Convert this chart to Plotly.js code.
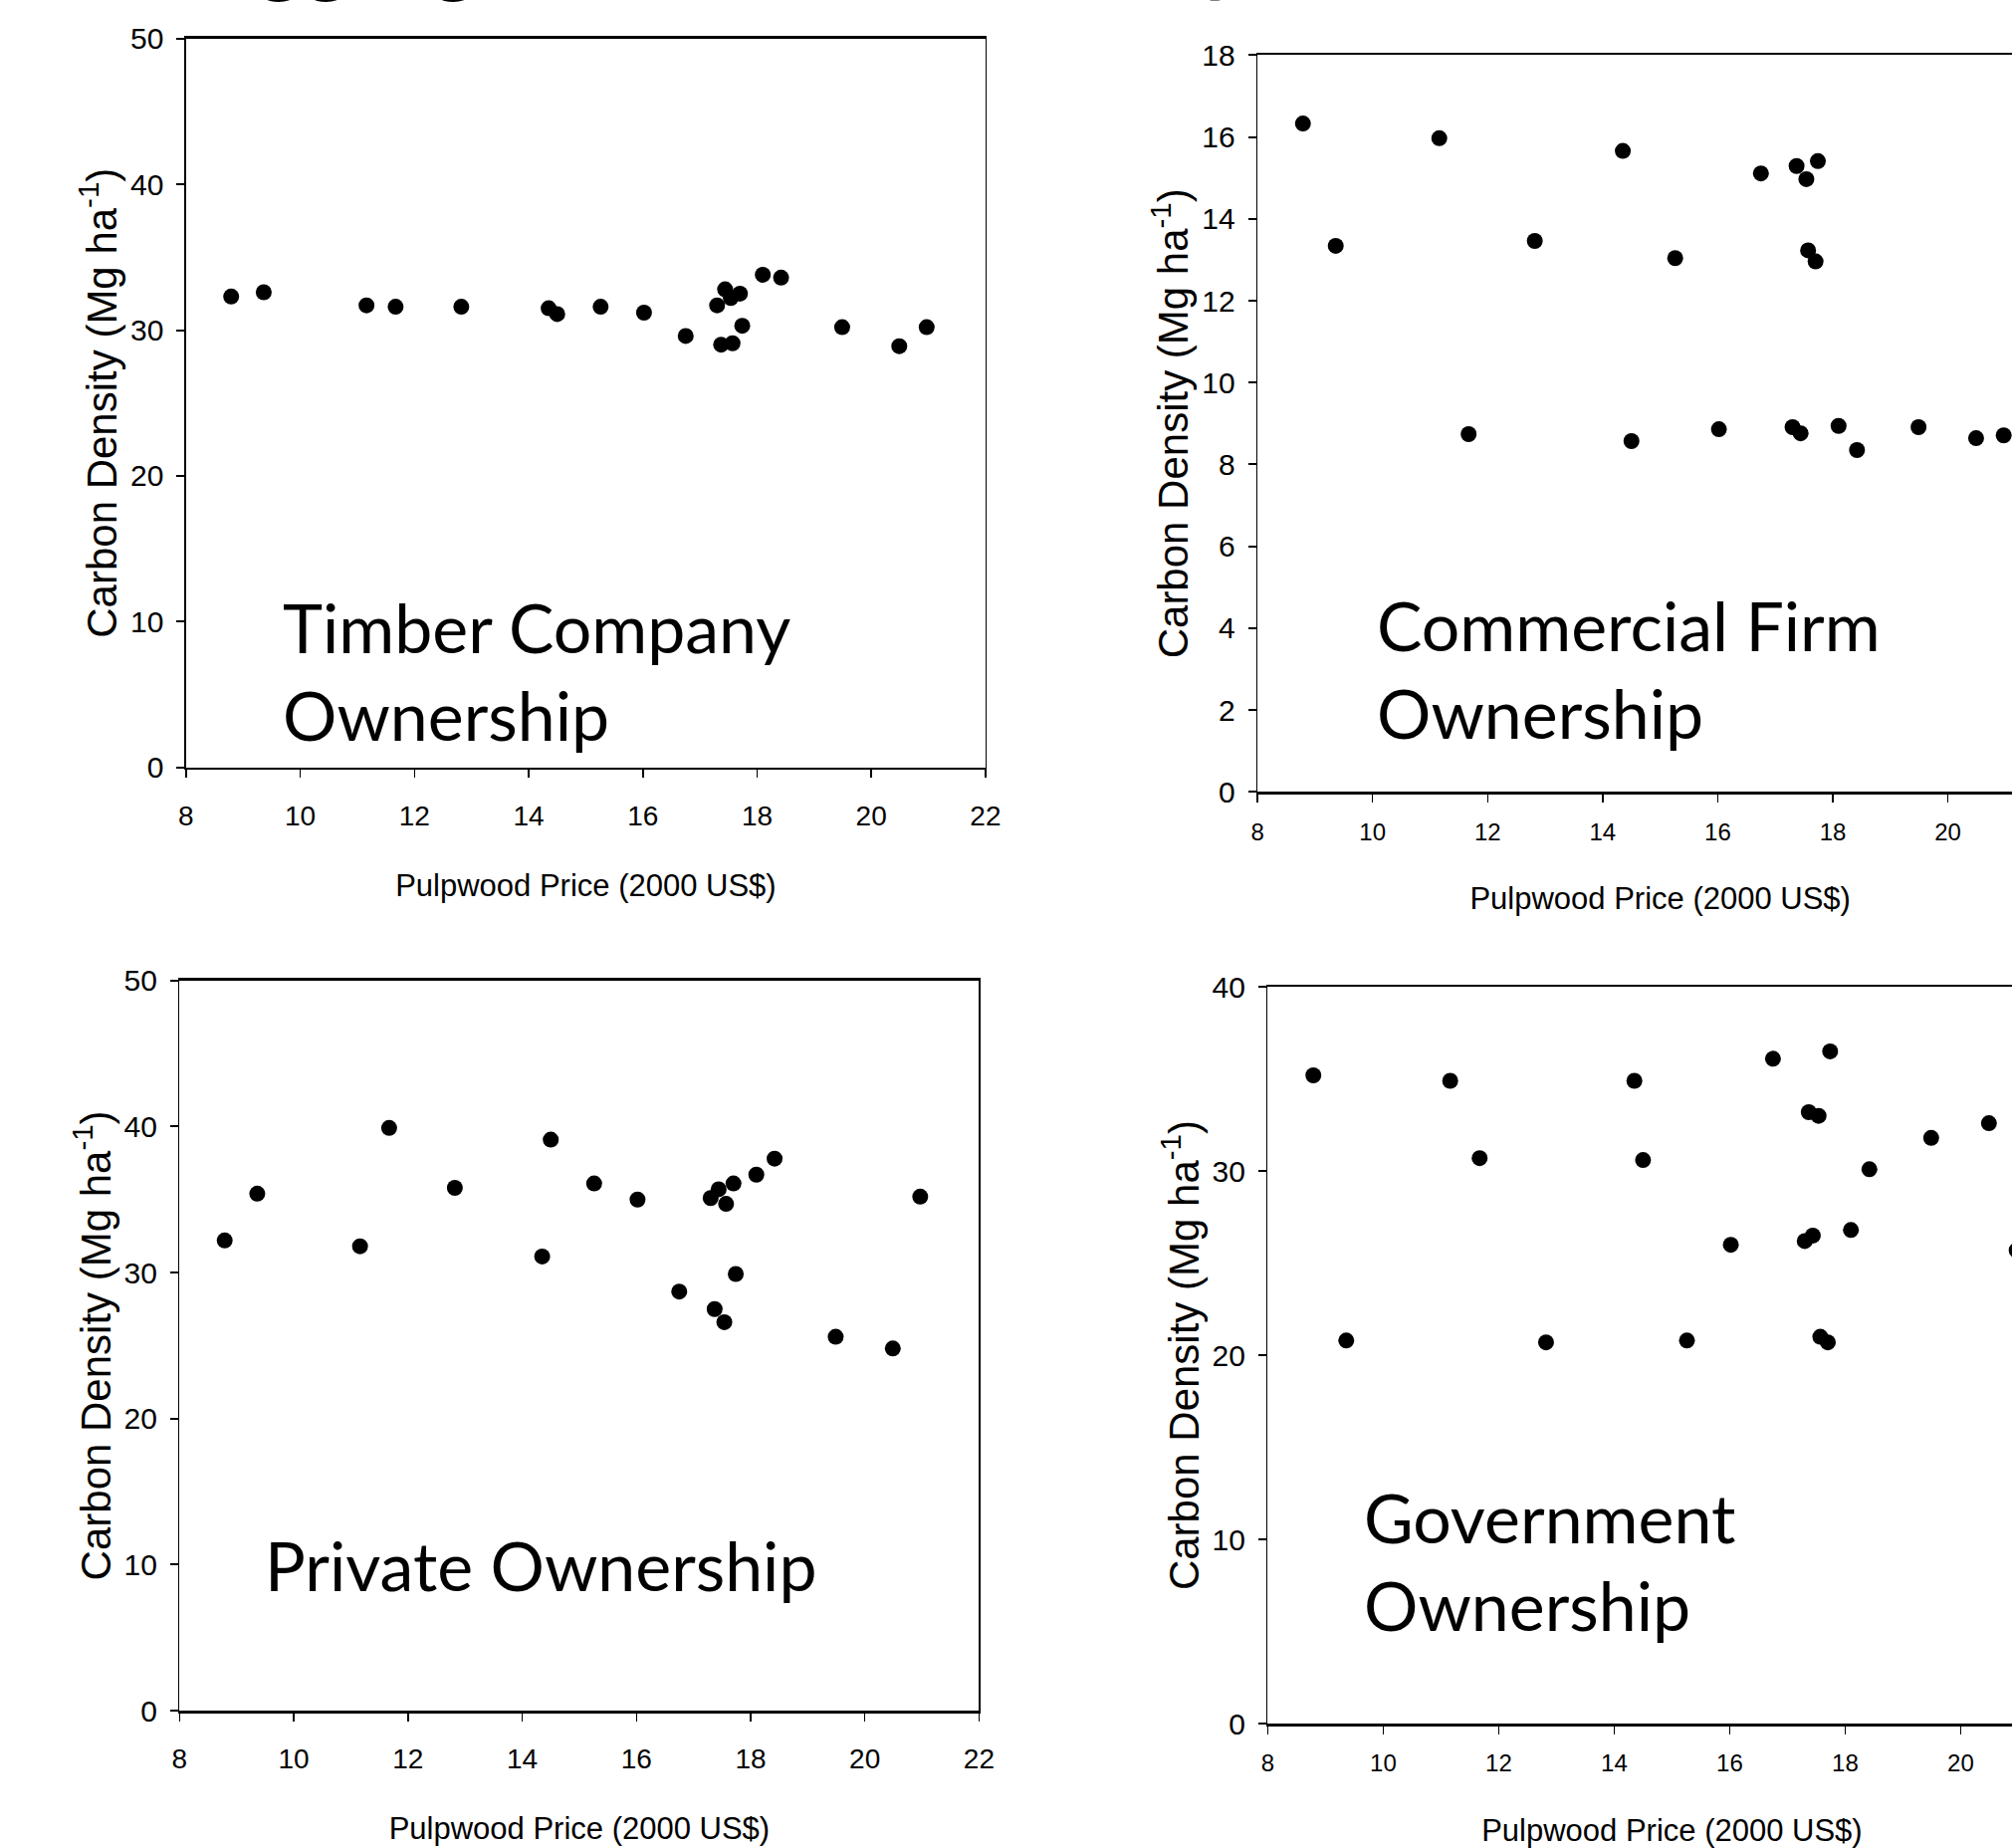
<!DOCTYPE html>
<html>
<head>
<meta charset="utf-8">
<script src="https://cdn.plot.ly/plotly-3.0.1.min.js"></script>
<style>
  html, body { margin: 0; padding: 0; background: #ffffff; overflow: hidden; }
  #chart { width: 2100px; height: 1856px; }
</style>
</head>
<body>
<div id="chart"></div>
<script>
// Pulpwood price (2000 US$) – shared x values of the four panels
const price = [8.79, 9.36, 11.16, 11.67, 12.82, 14.35, 14.50, 15.26, 16.02, 16.75, 17.30,
               17.37, 17.44, 17.54, 17.57, 17.70, 17.74, 18.10, 18.42, 19.49, 20.49, 20.97];

// Carbon density (Mg ha-1) by ownership
const timberCompany = [32.3, 32.6, 31.7, 31.6, 31.6, 31.5, 31.1, 31.6, 31.2, 29.6, 31.7,
                       29.0, 32.8, 32.2, 29.1, 32.5, 30.3, 33.8, 33.6, 30.2, 28.9, 30.2];
const commercialFirm = [16.33, 13.34, 15.97, 8.74, 13.46, 15.66, 8.57, 13.04, 8.86, 15.11, 8.91,
                        15.29, 8.76, 14.97, 13.23, 12.96, 15.41, 8.94, 8.35, 8.91, 8.64, 8.71];
const privateOwn = [32.2, 35.4, 31.8, 39.9, 35.8, 31.1, 39.1, 36.1, 35.0, 28.7, 35.1,
                    27.5, 35.7, 26.6, 34.7, 36.1, 29.9, 36.7, 37.8, 25.6, 24.8, 35.2];
const government = [35.2, 20.8, 34.9, 30.7, 20.7, 34.9, 30.6, 20.8, 26.0, 36.1, 26.2,
                    33.2, 26.5, 33.0, 21.0, 20.7, 36.5, 26.8, 30.1, 31.8, 32.6, 25.7];

const panelLabels = ["Timber Company<br>Ownership", "Commercial Firm<br>Ownership",
                     "Private Ownership", "Government<br>Ownership"];
const xTitle = "Pulpwood Price (2000 US$)";
const yTitle = "Carbon Density (Mg ha<sup>-1</sup>)";
const pageTitle = "Aggregate Carbon Density";

const W = 2100, H = 1856;
const px2x = p => p / W;
const px2y = p => 1 - p / H;

const series = [timberCompany, commercialFirm, privateOwn, government];
const traces = series.map((ys, i) => ({
  type: 'scatter', mode: 'markers',
  x: price, y: ys,
  xaxis: 'x' + (i === 0 ? '' : i + 1),
  yaxis: 'y' + (i === 0 ? '' : i + 1),
  marker: { color: '#000000', size: 16, line: { width: 0 } },
  showlegend: false, hoverinfo: 'x+y'
}));

const sans = 'Liberation Sans, Arial, sans-serif';

function xAx(d, anchor, tsize, tls, stand) {
  return {
    domain: d, anchor: anchor, range: [8, 22], tick0: 8, dtick: 2,
    showgrid: false, zeroline: false, showline: true, linecolor: '#000', linewidth: 2.5,
    mirror: true, ticks: 'outside', ticklen: 8, tickwidth: 1.5, tickcolor: '#000',
    tickfont: { family: sans, size: tsize, color: '#000' },
    ticklabelstandoff: tls, automargin: false, fixedrange: true,
    title: { text: xTitle, font: { family: sans, size: 31, color: '#000' }, standoff: stand }
  };
}
function yAx(d, anchor, range, dtick, mirror, stand) {
  return {
    domain: d, anchor: anchor, range: range, tick0: 0, dtick: dtick,
    showgrid: false, zeroline: false, showline: true, linecolor: '#000', linewidth: 1.5,
    mirror: mirror, ticks: 'outside', ticklen: 8, tickwidth: 2, tickcolor: '#000',
    tickfont: { family: sans, size: 30, color: '#000' },
    ticklabelstandoff: 7, automargin: false, fixedrange: true,
    title: { text: yTitle, font: { family: sans, size: 42, color: '#000' }, standoff: stand }
  };
}

const labelFont = { family: 'Lato, Carlito, Calibri, sans-serif', size: 68, color: '#000' };

const layout = {
  width: W, height: H,
  margin: { l: 0, r: 0, t: 0, b: 0, pad: 0 },
  paper_bgcolor: '#fff', plot_bgcolor: '#fff',
  showlegend: false,
  xaxis:  xAx([px2x(186.9), px2x(989.9)], 'y', 28, 14, 45),
  yaxis:  yAx([px2y(770.8), px2y(38.7)], 'x', [0, 50], 10, true, 0),
  xaxis2: xAx([px2x(1263.1), px2x(2072.2)], 'y2', 24, 9, 44),
  yaxis2: yAx([px2y(795.2), px2y(55.4)], 'x2', [0, 18], 2, false, 0),
  xaxis3: xAx([px2x(180.4), px2x(983.4)], 'y3', 28, 14, 44),
  yaxis3: yAx([px2y(1718.1), px2y(984.7)], 'x3', [0, 50], 10, true, 0),
  xaxis4: xAx([px2x(1273.4), px2x(2085.4)], 'y4', 24, 9, 47),
  yaxis4: yAx([px2y(1731), px2y(991.2)], 'x4', [0, 40], 10, false, 0),
  annotations: [
    { text: panelLabels[0], xref: 'paper', yref: 'paper', x: px2x(282), y: px2y(587),
      xanchor: 'left', yanchor: 'top', align: 'left', showarrow: false, font: labelFont },
    { text: panelLabels[1], xref: 'paper', yref: 'paper', x: px2x(1381), y: px2y(585),
      xanchor: 'left', yanchor: 'top', align: 'left', showarrow: false, font: labelFont },
    { text: panelLabels[2], xref: 'paper', yref: 'paper', x: px2x(264), y: px2y(1529),
      xanchor: 'left', yanchor: 'top', align: 'left', showarrow: false, font: labelFont },
    { text: panelLabels[3], xref: 'paper', yref: 'paper', x: px2x(1368), y: px2y(1481),
      xanchor: 'left', yanchor: 'top', align: 'left', showarrow: false, font: labelFont },
    { text: '<b>' + pageTitle + '</b>', xref: 'paper', yref: 'paper', x: px2x(192), y: px2y(6),
      xanchor: 'left', yanchor: 'bottom', align: 'left', showarrow: false,
      font: { family: 'Lato, Carlito, Calibri, sans-serif', size: 90, color: '#000' } }
  ]
};

Plotly.newPlot('chart', traces, layout, { displayModeBar: false, staticPlot: true });
</script>
</body>
</html>
